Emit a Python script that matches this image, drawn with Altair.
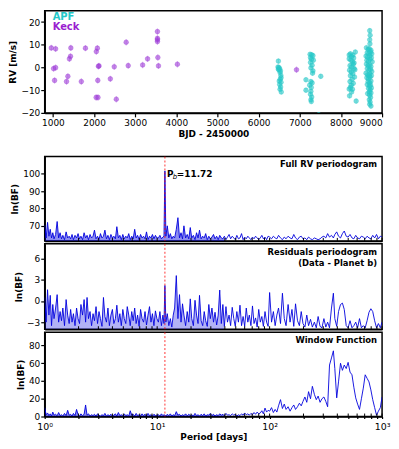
import altair as alt
import pandas as pd

# ---------------- RV time series ----------------
keck_bjd = [960, 1065, 1015, 1065, 1040, 1435, 1427, 1400, 1363, 1330,
            1690, 1790, 2080, 2055, 2105, 2120, 2090, 2050, 2095, 2395,
            2490, 2540, 2780, 2830, 3180, 3300, 3540, 3540, 3540, 3540,
            3550, 3565, 4025, 6920]
keck_rv = [8.6, 8.2, -0.5, -0.1, -5.7, 8.6, 4.9, 3.8, -3.9, -6.2,
           -6.2, 8.5, 8.5, 7.0, 0.5, 0.7, -5.7, -13.2, -13.2, -5.0,
           0.3, -14.0, 11.1, 0.8, 1.1, 3.8, 15.8, 12.8, 12.2, 11.4,
           4.4, 0.7, 1.4, -1.0]

apf_bjd = [6480, 6470, 6490, 6510, 6495, 6530, 6520, 6540, 6525, 6500,
           6545, 6510, 6535, 6520, 6550, 6480, 6545,
           7250, 7290, 7320, 7260, 7280, 7330, 7260, 7300, 7270, 7320,
           7310, 7150, 7270, 7300, 7240, 7280, 7150, 7270, 7260, 7290,
           7270, 7280, 7510, 7460,
           8200, 8230, 8260, 8290, 8310, 8350, 8200, 8240, 8280, 8300,
           8220, 8260, 8320, 8210, 8250, 8290, 8230, 8330, 8270, 8220,
           8300, 8250, 8230, 8280, 8260, 8210, 8370, 8320, 8340, 8200,
           8700, 8710, 8700, 8705, 8620, 8660, 8690, 8730, 8640, 8680,
           8720, 8750, 8610, 8650, 8700, 8740, 8630, 8670, 8710, 8760,
           8620, 8660, 8700, 8730, 8640, 8680, 8720, 8750, 8610, 8650,
           8700, 8740, 8630, 8670, 8710, 8660, 8700, 8730, 8640, 8690,
           8720, 8670, 8710, 8690, 8730, 8700, 8720, 8690, 8710, 8700,
           8730, 8680, 8740, 8650]
apf_rv = [2.8, 0.2, 0.0, -0.5, -1.0, -1.5, -2.2, -3.5, -5.2, -6.0,
          -6.5, -7.5, -8.6, -9.6, -10.8, -0.8, -4.5,
          5.8, 5.6, 5.2, 4.4, 3.6, 3.2, 2.2, 1.0, -0.2, -1.5,
          -2.5, -5.4, -6.2, -6.8, -7.8, -8.8, -10.0, -10.5, -11.8, -13.0,
          -14.2, -15.0, -3.9, -20.8,
          5.5, 6.0, 4.8, 5.5, 4.2, 6.8, 3.8, 3.2, 2.5, 1.5,
          0.8, 0.2, -0.5, -1.2, -2.0, -2.8, -3.6, -4.2, -5.2, -6.2,
          -7.0, -7.8, -8.8, -9.6, -10.8, -12.5, -14.8, 2.0, -1.0, -9.5,
          16.2, 14.2, 12.2, 10.4, 8.7, 7.9, 8.2, 7.6, 6.5, 6.2,
          6.8, 6.0, 5.0, 4.6, 5.2, 4.3, 3.2, 2.8, 3.6, 2.5,
          1.5, 0.8, 1.2, 0.4, -0.5, -1.2, -0.8, -1.8, -2.5, -3.2,
          -2.8, -3.6, -4.5, -5.0, -4.2, -6.2, -6.8, -6.0, -7.5, -8.2,
          -7.8, -9.2, -9.8, -10.8, -11.2, -12.2, -13.2, -14.2, -15.2, -16.2,
          -17.0, -3.8, -9.0, -11.5]
keck_err = 1.4
apf_err = 1.1

# ---------------- Periodograms ----------------
period_a = [1.00, 1.03, 1.06, 1.09, 1.12, 1.15, 1.18, 1.21, 1.25, 1.29,
            1.33, 1.37, 1.41, 1.45, 1.50, 1.55, 1.60, 1.65, 1.70, 1.75,
            1.80, 1.86, 1.92, 1.98, 2.04, 2.10, 2.17, 2.24, 2.31, 2.38,
            2.45, 2.53, 2.61, 2.69, 2.77, 2.86, 2.95, 3.04, 3.13, 3.23,
            3.33, 3.43, 3.54, 3.65, 3.76, 3.88, 4.00, 4.12, 4.25, 4.38,
            4.52, 4.66, 4.80, 4.95, 5.10, 5.26, 5.42, 5.59, 5.76, 5.94,
            6.12, 6.31, 6.50, 6.70, 6.91, 7.12, 7.34, 7.57, 7.80, 8.04,
            8.29, 8.55, 8.81, 9.08, 9.36, 9.65, 9.95]
period_b = [10.26, 10.58, 10.91, 11.25, 11.50, 11.72, 11.95, 12.30, 12.70, 13.10,
            13.50, 13.90, 14.30, 14.80, 15.30, 15.80, 16.30, 16.80, 17.30, 17.90,
            18.50, 19.10, 19.70, 20.30, 21.00, 21.70, 22.40, 23.10, 23.80, 24.60,
            25.40, 26.20, 27.00, 27.90, 28.80, 29.70, 30.70, 31.70, 32.70, 33.80,
            34.90, 36.00, 37.20, 38.40, 39.60, 40.90, 42.20, 43.60, 45.00, 46.50,
            48.00, 49.50, 51.10, 52.80, 54.50, 56.30, 58.10, 60.00, 62.00, 64.00,
            66.00, 68.20, 70.40, 72.70, 75.00, 77.50, 80.00, 82.60, 85.30, 88.00,
            91.00, 94.00, 97.00]
period_c = [100, 104, 108, 112, 116, 120, 125, 130, 135, 140,
            146, 152, 158, 164, 170, 177, 184, 191, 198, 206,
            214, 222, 231, 240, 250, 260, 270, 281, 292, 304,
            316, 328, 341, 355, 369, 380, 395, 410, 427, 444,
            461, 480, 499, 519, 540, 561, 583, 606, 630, 655,
            681, 708, 736, 765, 795, 826, 859, 893, 928, 965,
            1000]

full_a = [70.5, 63.0, 72.0, 64.0, 68.0, 63.0, 66.0, 62.5, 65.0, 72.5,
          63.0, 66.0, 62.5, 64.5, 62.0, 66.5, 63.0, 64.0, 62.5, 65.0,
          62.0, 64.5, 63.0, 65.5, 62.5, 64.0, 62.0, 66.0, 63.0, 64.5,
          62.0, 65.0, 63.0, 64.0, 67.5, 62.5, 64.0, 62.0, 65.5, 63.0,
          64.0, 67.5, 62.5, 64.5, 62.0, 65.0, 63.0, 64.0, 62.5, 69.5,
          63.0, 64.5, 62.0, 65.0, 62.5, 64.0, 63.0, 65.5, 62.0, 64.0,
          62.5, 68.0, 63.0, 64.5, 62.0, 65.0, 63.0, 64.0, 62.5, 66.5,
          62.0, 64.0, 63.0, 65.0, 62.5, 64.5, 63.0]
full_b = [63.0, 64.5, 62.5, 63.5, 64.0, 101.7, 64.0, 70.0, 63.0, 65.5,
          62.5, 64.0, 63.0, 68.0, 74.7, 63.0, 66.0, 62.5, 70.0, 63.0,
          65.0, 62.5, 69.0, 63.0, 64.5, 62.0, 66.0, 63.0, 67.5, 62.5,
          64.0, 63.0, 65.5, 62.0, 64.0, 62.5, 63.5, 65.0, 62.5, 64.0,
          62.0, 64.5, 63.0, 62.5, 64.0, 62.0, 63.5, 65.0, 62.5, 64.0,
          63.0, 62.0, 64.5, 62.5, 63.0, 65.5, 62.0, 63.5, 62.5, 64.0,
          63.0, 62.0, 63.5, 62.5, 64.0, 63.0, 62.0, 63.0, 64.5, 62.5,
          63.5, 62.0, 64.0]
full_c = [63.5, 62.5, 64.0, 63.0, 62.5, 64.5, 63.0, 62.0, 63.5, 62.5,
          64.0, 63.0, 62.5, 65.0, 63.0, 62.0, 63.5, 64.0, 62.5, 63.0,
          62.0, 63.5, 62.5, 62.0, 63.0, 62.5, 62.0, 62.5, 63.5, 64.0,
          63.0, 65.5, 63.5, 64.5, 63.0, 65.0, 66.5, 64.0, 63.0, 65.5,
          67.0, 64.0, 63.5, 65.0, 63.0, 62.5, 64.5, 63.0, 62.5, 64.0,
          63.5, 62.5, 64.0, 63.0, 62.5, 64.5, 63.0, 65.0, 62.5, 64.0,
          63.5]

resid_a = [0.5, -3.0, 1.6, -2.0, 0.8, -3.5, -0.5, -2.5, -1.0, 0.9,
           -3.0, -1.5, -2.8, -1.0, -3.5, 0.2, -2.0, -3.2, -1.2, -3.0,
           -1.8, -3.5, -1.0, -2.5, -3.2, -0.5, -2.0, 0.2, -3.0, 0.5,
           -2.5, -1.5, -3.5, -1.8, -2.8, -0.8, -3.2, -1.5, -2.5, -3.6,
           0.5, -2.2, -3.0, -1.0, -3.5, -2.0, -1.2, -3.2, -2.5, -0.6,
           -3.0, -1.8, -3.5, -1.2, -2.5, -3.2, -0.8, -2.0, -3.5, -1.5,
           -2.8, -1.0, -3.2, -2.0, -3.6, -1.2, -2.5, -3.0, -1.5, -3.4,
           -2.0, -0.8, -3.0, -1.8, -3.5, -1.4, -2.5]
resid_b = [-3.0, -1.5, -3.5, -2.0, -3.2, 2.2, -3.0, -1.8, -3.5, -2.5,
           -3.7, -2.0, -1.0, 3.6, -2.5, 0.9, -3.0, -0.4, -2.0, -3.5,
           -1.5, -3.0, 0.3, -2.5, -3.5, 0.1, -2.0, -3.2, 0.8, -2.8,
           -3.5, -1.5, -2.8, -3.6, -0.5, -2.5, -1.0, -3.0, -1.6, -3.4,
           -2.0, 1.55, -3.2, -0.5, -3.6, -0.8, -3.0, -2.0, -3.5, -0.9,
           -2.5, -3.6, -1.5, -3.0, -0.6, -3.5, -2.2, -3.6, -1.0, -3.0,
           -2.0, -3.5, -0.7, -3.2, -2.4, -3.7, -1.2, -3.0, -2.2, -3.6,
           -1.5, -3.0, -3.6]
resid_c = [1.2, -3.0, -1.5, -3.5, -2.0, -1.0, -3.2, 1.1, -2.5, -3.5,
           -0.5, -3.0, -1.2, -3.6, -0.4, -2.8, -3.5, -1.5, -3.2, -3.7,
           -2.0, -3.5, -2.6, -3.7, -3.0, -3.8, -2.2, -3.6, -3.8, -2.5,
           -3.7, -3.0, -3.8, -1.0, 1.1, -2.5, -3.6, -1.5, -0.5, -0.3,
           -1.2, -3.5, -3.8, -2.8, -3.8, -3.5, -3.0, -3.8, -2.5, -3.8,
           -3.5, -3.8, -2.8, -1.6, -1.1, -1.5, -2.8, -3.8, -3.2, -3.8,
           -3.0]

window_a = [10.0, 2.0, 4.0, 1.0, 3.0, 0.5, 5.0, 1.5, 2.5, 0.8,
            4.5, 1.0, 2.0, 0.5, 3.5, 1.0, 7.0, 1.5, 2.5, 0.5,
            3.5, 1.0, 8.0, 2.0, 0.5, 3.0, 1.0, 2.5, 13.0, 1.5,
            3.0, 0.5, 2.0, 1.0, 2.5, 0.5, 3.0, 1.5, 0.5, 2.0,
            1.0, 3.5, 0.5, 2.0, 1.0, 2.5, 0.5, 1.5, 3.0, 0.5,
            4.5, 1.0, 2.0, 0.5, 3.0, 1.0, 2.0, 0.5, 6.5, 1.5,
            2.5, 0.5, 3.5, 1.0, 2.0, 0.5, 3.0, 1.0, 2.5, 0.5,
            3.5, 1.0, 2.0, 0.5, 2.5, 1.0, 1.5]
window_b = [2.0, 0.5, 3.0, 1.0, 2.0, 1.5, 0.5, 2.5, 1.0, 3.0,
            0.5, 2.0, 1.0, 5.5, 1.5, 2.5, 0.5, 2.0, 1.0, 3.0,
            0.8, 2.5, 1.0, 2.0, 0.5, 3.5, 1.0, 2.0, 0.5, 2.5,
            1.0, 3.0, 0.5, 2.0, 1.5, 3.5, 1.0, 2.5, 0.5, 2.0,
            1.0, 3.0, 1.5, 2.5, 0.8, 3.5, 1.5, 2.0, 1.0, 3.0,
            1.5, 2.5, 0.5, 2.0, 1.0, 3.0, 1.5, 4.0, 2.0, 3.0,
            1.5, 3.5, 2.0, 4.5, 2.5, 5.0, 3.0, 4.0, 6.5, 3.0,
            9.5, 5.0, 7.0]
window_c = [6.0, 10.0, 4.5, 8.0, 5.0, 12.0, 19.0, 9.0, 14.0, 8.0,
            11.0, 6.0, 10.0, 13.0, 8.0, 11.0, 15.0, 12.0, 17.0, 22.0,
            16.0, 28.0, 20.0, 34.0, 25.0, 19.0, 23.0, 16.0, 20.0, 22.0,
            17.0, 11.0, 58.0, 66.0, 74.0, 54.0, 21.0, 39.0, 60.0, 52.0,
            58.0, 54.0, 61.0, 50.0, 47.0, 33.0, 21.0, 14.0, 8.0, 20.0,
            32.0, 47.0, 43.0, 39.0, 30.0, 19.0, 10.0, 1.5, 6.0, 10.0,
            22.0]

planet_b_period = 11.72
minor_ticks = [1, 2, 3, 4, 5, 6, 7, 8, 9, 10, 20, 30, 40, 50, 60, 70, 80, 90,
               100, 200, 300, 400, 500, 600, 700, 800, 900, 1000]

FONT = "DejaVu Sans"
BLUE = "#0000dd"
W = 340

# ---------------- Top panel ----------------
rv_df = pd.DataFrame({
    "bjd": keck_bjd + apf_bjd,
    "rv": keck_rv + apf_rv,
    "err": [keck_err] * len(keck_bjd) + [apf_err] * len(apf_bjd),
    "inst": ["Keck"] * len(keck_bjd) + ["APF"] * len(apf_bjd),
})
rv_df["lo"] = rv_df["rv"] - rv_df["err"]
rv_df["hi"] = rv_df["rv"] + rv_df["err"]

xs = alt.Scale(domain=[800, 9000], nice=False, zero=False)
ys = alt.Scale(domain=[-20, 25], nice=False, zero=False)
inst_col = alt.Scale(domain=["APF", "Keck"], range=["#28c8c8", "#a040d8"])
edge_col = alt.Scale(domain=["APF", "Keck"], range=["#1f7f7f", "#9a3dcc"])

xax = alt.Axis(values=list(range(1000, 10000, 1000)), format="d", title="BJD - 2450000",
               grid=False, tickSize=4, labelPadding=2, titlePadding=2, labelOverlap=False)
yax = alt.Axis(values=[-20, -10, 0, 10, 20], title="RV [m/s]", grid=False, tickSize=4,
               labelPadding=1, titlePadding=3, labelOverlap=False)

err = alt.Chart(rv_df).mark_rule(strokeWidth=1.2, opacity=0.35, clip=True).encode(
    x=alt.X("bjd:Q", scale=xs, axis=xax),
    y=alt.Y("lo:Q", scale=ys, axis=yax),
    y2="hi:Q",
    color=alt.Color("inst:N", scale=inst_col, legend=None),
)
pts = alt.Chart(rv_df).mark_circle(size=22, opacity=0.6, clip=True).encode(
    x=alt.X("bjd:Q", scale=xs, axis=xax),
    y=alt.Y("rv:Q", scale=ys, axis=yax),
    color=alt.Color("inst:N", scale=inst_col, legend=None),
)
pts_edge = alt.Chart(rv_df).mark_point(shape="circle", size=22, filled=False, strokeWidth=0.5,
                                       opacity=0.8, clip=True).encode(
    x=alt.X("bjd:Q", scale=xs, axis=xax),
    y=alt.Y("rv:Q", scale=ys, axis=yax),
    color=alt.Color("inst:N", scale=edge_col, legend=None),
)
leg_df = pd.DataFrame({"t": ["APF", "Keck"], "c": ["#22c8c8", "#9a1ed0"], "yy": [6, 16]})
legend_txt = alt.Chart(leg_df).mark_text(align="left", baseline="middle", font=FONT,
                                         fontWeight="bold", fontSize=10).encode(
    x=alt.value(8), y=alt.Y("yy:Q", scale=None), text="t:N",
    color=alt.Color("c:N", scale=None),
)
top = alt.layer(err, pts, pts_edge, legend_txt).properties(width=W, height=103)


# ---------------- Periodogram panels ----------------
def make_df(a, b, c, base):
    d = pd.DataFrame({"P": period_a + period_b + period_c, "v": a + b + c})
    d["base"] = base
    return d


px_scale = alt.Scale(type="log", domain=[1, 1000], nice=False)


def panel(df, domain, ticks, height, bottom, labels, fill_opacity):
    if bottom:
        xaxis = alt.Axis(values=minor_ticks, title="Period [days]", grid=False, tickSize=2,
                         labelExpr="datum.value == 1 ? '10⁰' : datum.value == 10 ? '10¹' : "
                                   "datum.value == 100 ? '10²' : datum.value == 1000 ? '10³' : ''",
                         labelPadding=3, titlePadding=2, labelFontSize=9.5, labelFlush=False,
                         labelOverlap=False)
    else:
        xaxis = alt.Axis(labels=False, ticks=False, title=None, grid=False)
    yaxis = alt.Axis(values=ticks, title="ln(BF)", grid=False, tickSize=4, labelPadding=1,
                     titlePadding=3, labelOverlap=False)
    ysc = alt.Scale(domain=domain, nice=False, zero=False)
    X = alt.X("P:Q", scale=px_scale, axis=xaxis)
    Y = alt.Y("v:Q", scale=ysc, axis=yaxis)
    line = alt.Chart(df).mark_line(color=BLUE, strokeWidth=0.9, clip=True).encode(x=X, y=Y)
    fill = alt.Chart(df).transform_filter("datum.P <= 40").mark_area(
        color=BLUE, opacity=fill_opacity, clip=True).encode(x=X, y=Y, y2="base:Q")
    tick_df = pd.DataFrame({"P": minor_ticks})
    inner = alt.Chart(tick_df).mark_rule(color="black", strokeWidth=1).encode(
        x=X, y=alt.value(height), y2=alt.value(height - 3),
    )
    red = alt.Chart(pd.DataFrame({"P": [planet_b_period]})).mark_rule(
        color="red", strokeDash=[2, 2], strokeWidth=0.8).encode(x=X)
    lab_df = pd.DataFrame({"t": [l[0] for l in labels], "yy": [l[1] for l in labels]})
    lab = alt.Chart(lab_df).mark_text(align="right", baseline="middle", font=FONT,
                                      fontWeight="bold", fontSize=8.5, color="black").encode(
        x=alt.value(W - 5), y=alt.Y("yy:Q", scale=None), text="t:N")
    return [line, fill, inner, red, lab], X


p1_layers, X1 = panel(make_df(full_a, full_b, full_c, 61.3), [61.3, 110], [70, 80, 90, 100], 85,
                      False, [("Full RV periodogram", 8)], 0.45)
pb_df = pd.DataFrame({"P": [planet_b_period]})
pb_P = alt.Chart(pb_df).mark_text(align="left", baseline="middle", font=FONT, fontWeight="bold",
                                  fontSize=9, dx=2, color="black").encode(
    x=X1, y=alt.value(18), text=alt.value("P"))
pb_b = alt.Chart(pb_df).mark_text(align="left", baseline="middle", font=FONT, fontStyle="italic",
                                  fontSize=7, dx=8, color="black").encode(
    x=X1, y=alt.value(21), text=alt.value("b"))
pb_v = alt.Chart(pb_df).mark_text(align="left", baseline="middle", font=FONT, fontWeight="bold",
                                  fontSize=9, dx=12, color="black").encode(
    x=X1, y=alt.value(18), text=alt.value("=11.72"))
p1 = alt.layer(*p1_layers, pb_P, pb_b, pb_v).properties(width=W, height=85)

p2_layers, _ = panel(make_df(resid_a, resid_b, resid_c, -4.0), [-4.0, 8.1], [-3, 0, 3, 6], 86,
                     False, [("Residuals periodogram", 8), ("(Data - Planet b)", 19)], 0.3)
p2 = alt.layer(*p2_layers).properties(width=W, height=86)
p3_layers, _ = panel(make_df(window_a, window_b, window_c, 0.0), [0, 95], [0, 20, 40, 60, 80],
                     85, True, [("Window Function", 8)], 0.45)
p3 = alt.layer(*p3_layers).properties(width=W, height=85)

lower = alt.vconcat(p1, p2, p3, spacing=3, bounds="flush")
chart = alt.vconcat(top, lower, spacing=44, bounds="flush").configure_view(
    stroke="black", strokeWidth=1.5
).configure_axis(
    labelFont=FONT, titleFont=FONT, labelFontSize=9, titleFontSize=9, titleFontWeight="bold",
    labelColor="black", titleColor="black", tickColor="black", domainColor="black",
    tickWidth=1.2, domainWidth=1.5,
).properties(padding={"left": 0, "top": 0, "right": 0, "bottom": 0})

chart.save("out.html", embed_options={"renderer": "svg", "actions": False})
